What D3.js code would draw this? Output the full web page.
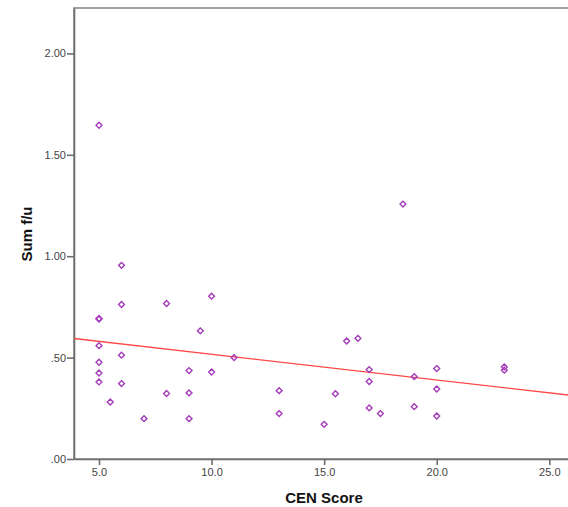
<!DOCTYPE html>
<html>
<head>
<meta charset="utf-8">
<script src="https://cdn.jsdelivr.net/npm/d3@7"></script>
<style>
  body { margin: 0; background: #fff; }
  .axis path, .axis line { stroke: #6e6e6e; }
  .axis text { font-family: "Liberation Sans", Arial, sans-serif; font-size: 11px; fill: #444; }
</style>
</head>
<body>
<div id="chart-area"></div>
<script>
// CEN score vs Sum f/u, one point per case
var cenScore = [5, 5, 5, 5, 5, 5, 5, 5.5, 6, 6, 6, 6, 7, 8, 8, 9, 9, 9, 9.5, 10, 10, 11,
                13, 13, 15, 15.5, 16, 16.5, 17, 17, 17, 17.5, 18.5, 19, 19, 20, 20, 20, 23, 23]
var sumFu = [1.646, 0.693, 0.690, 0.559, 0.477, 0.424, 0.380, 0.281, 0.955, 0.762, 0.512, 0.372,
             0.199, 0.767, 0.323, 0.436, 0.326, 0.199, 0.632, 0.803, 0.429, 0.500,
             0.337, 0.224, 0.171, 0.322, 0.582, 0.595, 0.441, 0.382, 0.252, 0.224, 1.257,
             0.406, 0.258, 0.446, 0.345, 0.212, 0.454, 0.438]
var xTicks = [5, 10, 15, 20, 25]
var xTickLabels = ["5.0", "10.0", "15.0", "20.0", "25.0"]
var yTicks = [0, 0.5, 1, 1.5, 2]
var yTickLabels = [".00", ".50", "1.00", "1.50", "2.00"]

var width = 568
var height = 507
var plot = {left: 74, top: 8, right: 584, bottom: 459}

var svg = d3.select("#chart-area")
  .append("svg")
  .attr("width", width)
  .attr("height", height)

var x = d3.scaleLinear().domain([3.89, 26.54]).range([plot.left, plot.right])
var y = d3.scaleLinear().domain([0, 2.224]).range([plot.bottom, plot.top])

// frame (right side falls outside the picture)
svg.append("rect")
  .attr("x", plot.left)
  .attr("y", plot.top)
  .attr("width", plot.right - plot.left)
  .attr("height", plot.bottom - plot.top)
  .attr("fill", "none")
  .attr("stroke", "#8a8a8a")
  .attr("stroke-width", 1.6)

var bottomAxis = d3.axisBottom(x)
  .tickValues(xTicks)
  .tickFormat((d, i) => xTickLabels[i])
  .tickSizeInner(6).tickSizeOuter(0).tickPadding(3)
svg.append("g")
  .attr("class", "axis")
  .attr("transform", `translate(0, ${plot.bottom})`)
  .call(bottomAxis)
  .selectAll("path, line").attr("stroke-width", 1.6)

var leftAxis = d3.axisLeft(y)
  .tickValues(yTicks)
  .tickFormat((d, i) => yTickLabels[i])
  .tickSizeInner(7).tickSizeOuter(0).tickPadding(1)
svg.append("g")
  .attr("class", "axis")
  .attr("transform", `translate(${plot.left}, 0)`)
  .call(leftAxis)
  .selectAll("path, line").attr("stroke-width", 1.6)

// least squares fit line
var mx = d3.mean(cenScore)
var my = d3.mean(sumFu)
var sxy = d3.sum(cenScore, (v, i) => (v - mx) * (sumFu[i] - my))
var sxx = d3.sum(cenScore, v => (v - mx) * (v - mx))
var slope = sxy / sxx
var intercept = my - slope * mx
var fitLine = d3.line()
  .x(d => x(d))
  .y(d => y(intercept + slope * d))
svg.append("path")
  .datum(x.domain())
  .attr("d", fitLine)
  .attr("fill", "none")
  .attr("stroke", "#ff4848")
  .attr("stroke-width", 1.3)

var diamond = d3.symbol().type(d3.symbolDiamond2).size(22)
svg.append("g")
  .selectAll("path")
  .data(cenScore)
  .enter()
  .append("path")
    .attr("d", diamond)
    .attr("transform", (d, i) => `translate(${x(d)}, ${y(sumFu[i])})`)
    .attr("fill", "none")
    .attr("stroke", "#a43cba")
    .attr("stroke-width", 1.4)

svg.append("text")
  .attr("x", 324)
  .attr("y", 503)
  .attr("text-anchor", "middle")
  .attr("font-family", "Liberation Sans, Arial, sans-serif")
  .attr("font-size", "15px")
  .attr("font-weight", "bold")
  .attr("fill", "#111")
  .text("CEN Score")

svg.append("text")
  .attr("x", -234)
  .attr("y", 32)
  .attr("transform", "rotate(-90)")
  .attr("text-anchor", "middle")
  .attr("font-family", "Liberation Sans, Arial, sans-serif")
  .attr("font-size", "15px")
  .attr("font-weight", "bold")
  .attr("fill", "#111")
  .text("Sum f/u")
</script>
</body>
</html>
